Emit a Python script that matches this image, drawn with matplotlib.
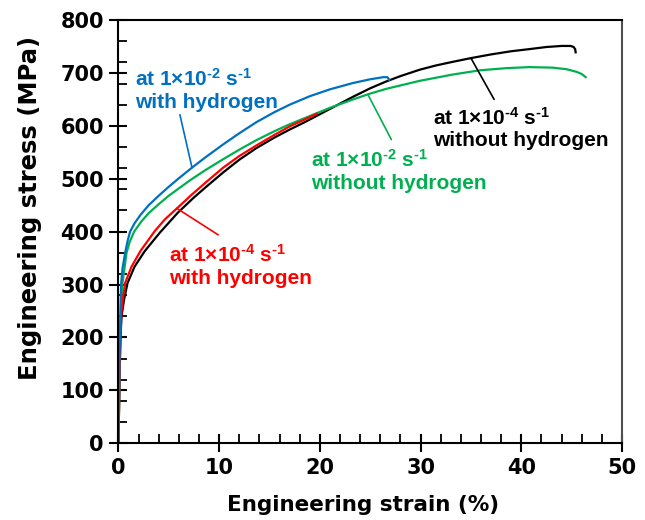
import matplotlib
matplotlib.use('Agg')
import matplotlib.pyplot as plt
from matplotlib.ticker import MultipleLocator

plt.rcParams['mathtext.default'] = 'regular'

# strain (%) / stress (MPa)
strain_slow_noH = [0, 0.1, 0.2, 0.3, 0.55, 0.9, 1.6, 2.6, 4.1, 5.9, 7.4, 8.6, 10.4, 12.0,
                   13.7, 15.5, 17.0, 18.5, 19.7, 21.0, 23.3, 25.0, 26.6, 28.0, 29.9, 31.5,
                   33.2, 35.0, 37.0, 39.0, 40.8, 42.5, 44.0, 44.9, 45.2, 45.35, 45.4]
stress_slow_noH = [0, 120, 200, 240, 271, 303, 334, 363, 398, 436, 463, 483, 512, 536,
                   558, 578, 593, 607, 619, 632, 655, 671, 684, 694, 706, 714,
                   721, 728, 735, 741, 745, 749, 751, 751, 749, 745, 739]

strain_fast_noH = [0, 0.08, 0.17, 0.28, 0.4, 0.8, 1.1, 1.55, 2.3, 3.0, 4.0, 5.0, 6.3, 7.1,
                   8.6, 10.4, 12.0, 13.7, 15.5, 17.0, 19.7, 21.0, 23.3, 25.0, 26.6, 29.9,
                   33.2, 35.9, 38.5, 40.8, 43.1, 44.5, 45.5, 46.0, 46.4]
stress_fast_noH = [0, 100, 200, 270, 303, 360, 380, 400, 420, 435, 452, 468, 486, 497,
                   516, 537, 555, 573, 590, 603, 624, 634, 650, 661, 670, 685,
                   697, 705, 709, 711, 710, 707, 702, 698, 692]

strain_slow_H = [0, 0.08, 0.18, 0.3, 0.43, 0.66, 1.3, 2.2, 3.6, 4.6, 5.8, 6.6, 7.1, 8.6,
                 10.4, 12.0, 13.7, 15.5, 17.0, 18.5, 19.7]
stress_slow_H = [0, 100, 200, 250, 271, 303, 334, 364, 401, 423, 444, 458, 467, 492,
                 521, 543, 563, 583, 599, 612, 623]

strain_fast_H = [0, 0.05, 0.12, 0.2, 0.27, 0.4, 0.66, 0.9, 1.15, 1.6, 2.2, 3.0, 4.0, 5.0,
                 6.0, 7.3, 8.6, 10.4, 12.0, 13.7, 15.5, 17.0, 19.0, 21.0, 23.3, 25.0,
                 26.3, 26.7, 26.9]
stress_fast_H = [0, 80, 180, 260, 303, 330, 360, 382, 400, 416, 432, 450, 468, 485,
                 501, 521, 540, 565, 586, 607, 626, 640, 656, 669, 681, 688,
                 692, 692, 687]

labels = ['at 1×10$^{‐2}$ s$^{‐1}$\nwith hydrogen',
          'at 1×10$^{‐4}$ s$^{‐1}$\nwith hydrogen',
          'at 1×10$^{‐2}$ s$^{‐1}$\nwithout hydrogen',
          'at 1×10$^{‐4}$ s$^{‐1}$\nwithout hydrogen']
label_pos = [(1.6, 668), (5.0, 335), (19.1, 514), (31.2, 595)]
# leader lines: (point on curve, free end)
leader_tip = [(7.3, 521), (5.8, 444), (24.8, 658), (35.0, 728)]
leader_end = [(6.1, 621), (9.9, 394), (27.1, 574), (37.3, 650)]
colors = ['#0070C0', '#FF0000', '#00B050', '#000000']

fig = plt.figure(figsize=(6.45, 5.2), dpi=100)
ax = fig.add_axes([0.1837, 0.1475, 0.7806, 0.814])

ax.plot(strain_slow_noH, stress_slow_noH, color=colors[3], lw=1.6)
ax.plot(strain_fast_noH, stress_fast_noH, color=colors[2], lw=1.6)
ax.plot(strain_slow_H, stress_slow_H, color=colors[1], lw=1.6)
ax.plot(strain_fast_H, stress_fast_H, color=colors[0], lw=1.6)

for lab, pos, tip, end, c in zip(labels, label_pos, leader_tip, leader_end, colors):
    ax.annotate('', xy=tip, xytext=end,
                arrowprops=dict(arrowstyle='-', color=c, lw=1.2, shrinkA=0, shrinkB=0))
    ax.text(pos[0], pos[1], lab, color=c, fontsize=15, fontweight='bold',
            family='Liberation Sans', ha='left', va='center', linespacing=1.2)

ax.set_xlim(0, 50)
ax.set_ylim(0, 800)
ax.xaxis.set_major_locator(MultipleLocator(10))
ax.xaxis.set_minor_locator(MultipleLocator(2))
ax.yaxis.set_major_locator(MultipleLocator(100))
ax.yaxis.set_minor_locator(MultipleLocator(40))
ax.tick_params(which='major', direction='inout', length=13, width=1.5, labelsize=15, pad=4)
ax.tick_params(which='minor', direction='in', length=6.5, width=1.3)
for lbl in ax.get_xticklabels() + ax.get_yticklabels():
    lbl.set_fontweight('bold')

for side in ['left', 'bottom', 'top']:
    ax.spines[side].set_linewidth(1.5)
ax.spines['right'].set_linewidth(1.5)
ax.spines['right'].set_color('#505050')

ax.set_xlabel('Engineering strain (%)', fontsize=15.5, fontweight='bold')
ax.set_ylabel('Engineering stress (MPa)', fontsize=17.5, fontweight='bold')
ax.xaxis.set_label_coords(0.485, -0.123)
ax.yaxis.set_label_coords(-0.152, 0.556)

fig.savefig('out.png', dpi=100)
